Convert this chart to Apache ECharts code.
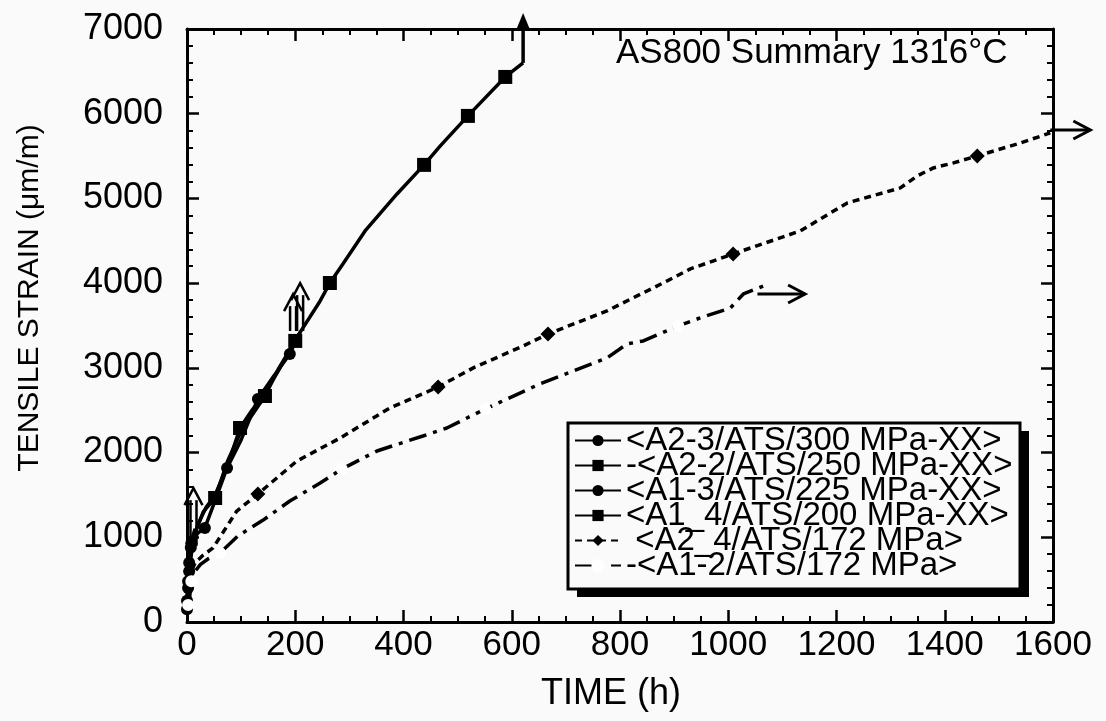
<!DOCTYPE html>
<html><head><meta charset="utf-8">
<script src="https://cdn.jsdelivr.net/npm/echarts@6/dist/echarts.min.js"></script>
<style>html,body{margin:0;padding:0;background:#fafafa}#c{width:1106px;height:721px}</style>
</head><body><div id="c"></div><script>
// ---- data (time h, strain um/m, marker flag) ----
const names = ["<A2-3/ATS/300 MPa-XX>", "-<A2-2/ATS/250 MPa-XX>", "<A1-3/ATS/225 MPa-XX>", "<A1_4/ATS/200 MPa-XX>", " <A2_4/ATS/172 MPa>", "-<A1-2/ATS/172 MPa>"];
const xTicks = [0, 200, 400, 600, 800, 1000, 1200, 1400, 1600];
const yTicks = [0, 1000, 2000, 3000, 4000, 5000, 6000, 7000];
const a23_300 = [[0,250,1],[2,480,1],[4,700,1],[7,880,1],[10,1000,0],[15,1100,0]];
const a22_250 = [[0,200,0],[3,500,0],[8,800,0],[15,1050,0],[30,1300,0],[52,1464,1],[75,1900,0],[100,2250,0],[144,2668,1],[170,3000,0],[200,3318,1],[209,3420,0]];
const a13_225 = [[0,150,1],[2,400,1],[4,600,1],[8,930,1],[20,1050,0],[33,1110,1],[50,1400,0],[74,1818,1],[100,2150,0],[131,2633,1],[160,2900,0],[190,3164,1],[196,3250,0]];
const a14_200 = [[0,250,0],[2,600,0],[5,800,0],[10,950,0],[20,1150,0],[35,1350,0],[52,1500,0],[75,1850,0],[98,2290,1],[120,2500,0],[144,2700,0],[170,2980,0],[200,3330,0],[246,3790,0],[264,4002,1],[288,4227,0],[329,4616,0],[388,5053,0],[438,5396,1],[468,5620,0],[519,5974,1],[542,6128,0],[588,6434,1],[621,6600,0]];
const a24_172 = [[0,200,0],[5,550,0],[15,700,0],[30,790,0],[48,874,0],[92,1310,0],[131,1511,1],[203,1900,0],[283,2172,0],[375,2527,0],[464,2774,1],[529,3000,0],[621,3258,0],[667,3400,1],[776,3672,0],[887,4026,0],[930,4168,0],[1009,4345,1],[1133,4616,0],[1220,4947,0],[1318,5124,0],[1349,5265,0],[1379,5360,0],[1416,5419,0],[1460,5502,1],[1534,5643,0],[1595,5773,0]];
const a12_172 = [[2,200,1],[5,300,0],[8,480,1],[15,600,0],[25,680,0],[40,750,0],[61,815,1],[94,1015,0],[140,1200,0],[190,1428,0],[246,1641,0],[286,1806,1],[351,2019,0],[436,2196,0],[480,2290,0],[551,2515,1],[652,2810,0],[776,3117,0],[813,3282,0],[843,3318,0],[908,3495,1],[948,3589,0],[1004,3707,0],[1028,3872,0],[1065,3967,0]];
// failure / run-out arrows [t0, s0, t1, s1]
const hollowUpArrows = [[12,900,12,1580],[196,3435,196,3870],[209,3435,209,4000]];
const topArrow = [621,6600,621,7190];
const rightArrows = [[1595,5808,1669,5808],[1054,3872,1142,3872]];
const note = "AS800 Summary 1316\u00B0C";
const yName = "TENSILE STRAIN (\u03BCm/m)";
const xName = "TIME (h)";

const FONT = "'Liberation Sans', Arial, sans-serif";

function mk(arr, sym) {
  return arr.map(p => ({ value: [p[0], p[1]], symbol: p[2] ? sym : 'none' }));
}
const styles = [
  { d: a23_300, sym: 'circle', size: 12, type: 'solid', w: 3.5 },
  { d: a22_250, sym: 'rect', size: 14, type: 'solid', w: 3.5 },
  { d: a13_225, sym: 'circle', size: 12, type: 'solid', w: 3.5 },
  { d: a14_200, sym: 'rect', size: 14, type: 'solid', w: 3.5 },
  { d: a24_172, sym: 'diamond', size: 15, type: [7, 5], w: 3.5 },
  { d: a12_172, sym: 'emptyCircle', size: 10, type: [18, 7, 4, 7], w: 3.5 }
];
const series = styles.map((s, i) => ({
  name: names[i], type: 'line', data: mk(s.d, s.sym), symbol: s.sym, symbolSize: s.size,
  showAllSymbol: true, smooth: false, animation: false, z: 3 + i,
  lineStyle: { color: '#000', width: s.w, type: s.type },
  itemStyle: { color: s.sym === 'emptyCircle' ? '#fff' : '#000', borderColor: '#000', borderWidth: s.sym === 'emptyCircle' ? 3 : 0 }
}));

const chart = echarts.init(document.getElementById('c'), null, { renderer: 'canvas' });
const axisCommon = {
  axisLine: { show: true, onZero: false, lineStyle: { color: '#000', width: 3 } },
  axisTick: { inside: true, length: 12, lineStyle: { color: '#000', width: 2.5 } },
  minorTick: { show: true, length: 6, lineStyle: { color: '#000', width: 2 } },
  splitLine: { show: false }
};
const grid = { left: 187, right: 53, top: 29, bottom: 99 };
chart.setOption({
  backgroundColor: '#fafafa',
  animation: false,
  grid: grid,
  xAxis: [
    Object.assign({}, axisCommon, { type: 'value', min: 0, max: 1600, interval: 200, position: 'bottom',
      minorTick: Object.assign({}, axisCommon.minorTick, { splitNumber: 4 }),
      axisLabel: { color: '#000', fontSize: 35, fontFamily: FONT, margin: 6,
        formatter: v => xTicks.includes(v) ? String(v) : '' },
      name: xName, nameLocation: 'middle', nameGap: 54,
      nameTextStyle: { color: '#000', fontSize: 36, fontFamily: FONT, padding: [0, 18, 0, 0] } }),
    Object.assign({}, axisCommon, { type: 'value', min: 0, max: 1600, interval: 200, position: 'top',
      minorTick: Object.assign({}, axisCommon.minorTick, { splitNumber: 4 }), axisLabel: { show: false } })
  ],
  yAxis: [
    Object.assign({}, axisCommon, { type: 'value', min: 0, max: 7000, interval: 1000, position: 'left',
      minorTick: Object.assign({}, axisCommon.minorTick, { splitNumber: 5 }),
      axisLabel: { color: '#000', fontSize: 36, fontFamily: FONT, margin: 24,
        formatter: v => yTicks.includes(v) ? String(v) : '' } }),
    Object.assign({}, axisCommon, { type: 'value', min: 0, max: 7000, interval: 1000, position: 'right',
      minorTick: Object.assign({}, axisCommon.minorTick, { splitNumber: 5 }), axisLabel: { show: false } })
  ],
  legend: {
    orient: 'vertical', left: 574, top: 424, itemGap: -8, itemWidth: 46, itemHeight: 14,
    padding: 0, backgroundColor: 'transparent', borderWidth: 0,
    textStyle: { color: '#000', fontSize: 33, fontFamily: FONT },
    data: names, z: 30
  },
  series: series
});

// annotations (arrows, legend frame, note, y title) via library coordinate conversion
const P = (t, s) => chart.convertToPixel({ gridIndex: 0 }, [t, s]);
const g = [];
const stroke = { stroke: '#000', lineWidth: 2.5, fill: null };
hollowUpArrows.forEach(a => {
  const p0 = P(a[0], a[1]), p1 = P(a[2], a[3]);
  g.push({ type: 'line', shape: { x1: p0[0] - 3, y1: p0[1], x2: p0[0] - 3, y2: p1[1] + 12 }, style: stroke, z: 20 });
  g.push({ type: 'line', shape: { x1: p0[0] + 3, y1: p0[1], x2: p0[0] + 3, y2: p1[1] + 12 }, style: stroke, z: 20 });
  g.push({ type: 'polyline', shape: { points: [[p1[0] - 9, p1[1] + 17], [p1[0], p1[1]], [p1[0] + 9, p1[1] + 17]] }, style: stroke, z: 20 });
});
{
  const p0 = P(topArrow[0], topArrow[1]), p1 = P(topArrow[2], topArrow[3]);
  g.push({ type: 'line', shape: { x1: p0[0], y1: p0[1], x2: p1[0], y2: p1[1] + 10 }, style: { stroke: '#000', lineWidth: 3.5 }, z: 20 });
  g.push({ type: 'polygon', shape: { points: [[p1[0] - 7, p1[1] + 17], [p1[0], p1[1]], [p1[0] + 7, p1[1] + 17]] }, style: { fill: '#000' }, z: 20 });
}
rightArrows.forEach(a => {
  const p0 = P(a[0], a[1]), p1 = P(a[2], a[3]);
  g.push({ type: 'line', shape: { x1: p0[0], y1: p0[1], x2: p1[0], y2: p1[1] }, style: { stroke: '#000', lineWidth: 3 }, z: 20 });
  g.push({ type: 'polyline', shape: { points: [[p1[0] - 17, p1[1] - 9], [p1[0], p1[1]], [p1[0] - 17, p1[1] + 9]] }, style: { stroke: '#000', lineWidth: 3, fill: null }, z: 20 });
});
// legend frame with drop shadow
g.push({ type: 'rect', shape: { x: 577, y: 431, width: 452, height: 166 }, style: { fill: '#000' }, z: 25 });
g.push({ type: 'rect', shape: { x: 568, y: 423, width: 452, height: 166 }, style: { fill: '#fafafa', stroke: '#000', lineWidth: 3 }, z: 26 });
g.push({ type: 'text', left: 616, top: 36, style: { text: note, fill: '#000', font: "35px " + FONT }, z: 20 });
g.push({ type: 'text', x: 30, y: 298, rotation: Math.PI / 2,
  style: { text: yName, fill: '#000', font: "30px " + FONT, textAlign: 'center', textVerticalAlign: 'middle' }, z: 20 });
chart.setOption({ graphic: g });
</script></body></html>
